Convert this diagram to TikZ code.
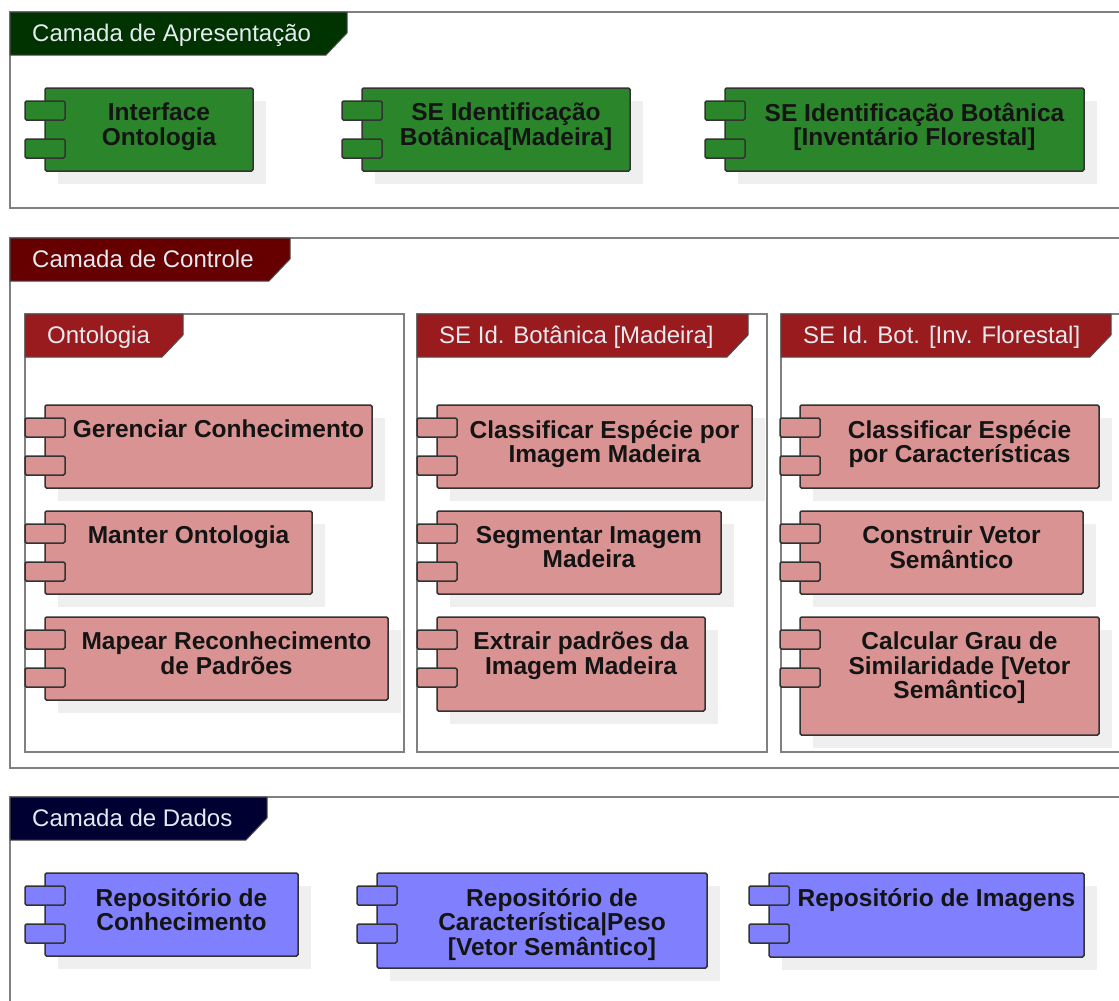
\documentclass[tikz,border=0pt]{standalone}
\usepackage{fontspec}
\setmainfont{Liberation Sans}
\usepackage{xcolor}
\usetikzlibrary{calc}
\usetikzlibrary{positioning}

\definecolor{presdark}{HTML}{003300}
\definecolor{presfill}{HTML}{2B852B}
\definecolor{ctrldark}{HTML}{660000}
\definecolor{ctrltab}{HTML}{9A1B1E}
\definecolor{ctrlfill}{HTML}{DA9393}
\definecolor{datadark}{HTML}{000033}
\definecolor{datafill}{HTML}{8080FF}
\definecolor{framegray}{HTML}{808080}
\definecolor{shadowgray}{HTML}{EFEFEF}
\definecolor{tabtext}{HTML}{E4EBF0}

\def\thickness{1.5pt}
\def\tightlines{\lineskiplimit -20pt\relax}
\tikzset{
frameline/.style={draw=framegray, line width=2pt},
tabshape/.style={draw=black!70, line width=1pt, fill=#1},
tabtitle/.style={anchor=base west, inner sep=0pt, text=tabtext,
	font=\fontsize{24}{25}\selectfont},
compbox/.style={draw=black!80, line width=\thickness, rounded corners=1.5pt, fill=#1},
compshadow/.style={fill=shadowgray},
comptext/.style={anchor=north, inner sep=0pt, align=center, text=black!92,
	font=\fontsize{24.5}{24.5}\selectfont\bfseries\tightlines},
}

% name, colour, left, top, right, bottom, text
\newcommand{\comp}[7]{
	\fill[compshadow] (#3+13,#4+13) rectangle (#5+13,#6+13);
	\draw[compbox=#2] (#3,#4) rectangle (#5,#6);
	\draw[compbox=#2] (#3-20,#4+13) rectangle (#3+20,#4+32);
	\draw[compbox=#2] (#3-20,#4+51) rectangle (#3+20,#4+70);
	\node[comptext] (#1) at ({(#3+20+#5)/2},#4+15) {\rule{0pt}{17pt}#7};
}
% name, colour, left, top, right, text
\newcommand{\pkgtab}[6]{
	\draw[tabshape=#2] (#3,#4) -- (#5,#4) -- (#5,#4+21) -- (#5-21,#4+43)
		-- (#3,#4+43) -- cycle;
	\node[tabtitle] (#1) at (#3+22,#4+29) {#6};
}

\begin{document}
\begin{tikzpicture}[x=1pt, y=-1pt]
	\useasboundingbox (0,0) rectangle (1119,1001);
	
	%
	\draw[frameline] (1119,12) -- (10,12) -- (10,208) -- (1119,208);
	\pkgtab{apres}{presdark}{10}{12}{347}{Camada de Apresentação}
	\comp{iface}{presfill}{45}{88}{253}{171}{Interface\\Ontologia}
	\comp{seMad}{presfill}{362}{88}{630}{171}{SE Identificação\\Botânica[Madeira]}
	\comp{seInv}{presfill}{725}{88}{1084}{171}{SE Identificação Botânica\\{[}Inventário Florestal]}
	
	%
	\draw[frameline] (1119,238) -- (10,238) -- (10,768) -- (1119,768);
	\pkgtab{ctrl}{ctrldark}{10}{238}{290}{Camada de Controle}
	
	\draw[frameline] (25,314) rectangle (404,752);
	\draw[frameline] (417,314) rectangle (767,752);
	\draw[frameline] (1119,314) -- (781,314) -- (781,752) -- (1119,752);
	\pkgtab{onto}{ctrltab}{25}{314}{183}{Ontologia}
	\pkgtab{idMad}{ctrltab}{417}{314}{748}{SE Id. Botânica [Madeira]}
	\pkgtab{idInv}{ctrltab}{781}{314}{1111}{SE Id. Bot. [Inv. Florestal]}
	
	\comp{gerenciar}{ctrlfill}{45}{405}{372}{488}{Gerenciar Conhecimento}
	\comp{manter}{ctrlfill}{45}{511}{312}{594}{Manter Ontologia}
	\comp{mapear}{ctrlfill}{45}{617}{388}{700}{Mapear Reconhecimento\\de Padrões}
	
	\comp{classMad}{ctrlfill}{437}{405}{752}{488}{Classificar Espécie por\\Imagem Madeira}
	\comp{segmentar}{ctrlfill}{437}{511}{721}{594}{Segmentar Imagem\\Madeira}
	\comp{extrair}{ctrlfill}{437}{617}{705}{711}{Extrair padrões da\\Imagem Madeira}
	
	\comp{classCar}{ctrlfill}{800}{405}{1099}{488}{Classificar Espécie\\por Características}
	\comp{construir}{ctrlfill}{800}{511}{1083}{594}{Construir Vetor\\Semântico}
	\comp{calcular}{ctrlfill}{800}{617}{1099}{735}{Calcular Grau de\\Similaridade [Vetor\\Semântico]}
	
	%
	\draw[frameline] (1119,797) -- (10,797) -- (10,1001);
	\pkgtab{dados}{datadark}{10}{797}{267}{Camada de Dados}
	\comp{repConh}{datafill}{45}{873}{298}{956}{Repositório de\\Conhecimento}
	\comp{repCar}{datafill}{377}{873}{707}{968}{Repositório de\\Característica|Peso\\{[}Vetor Semântico]}
	\comp{repImg}{datafill}{769}{873}{1084}{957}{Repositório de Imagens}
\end{tikzpicture}
\end{document}
